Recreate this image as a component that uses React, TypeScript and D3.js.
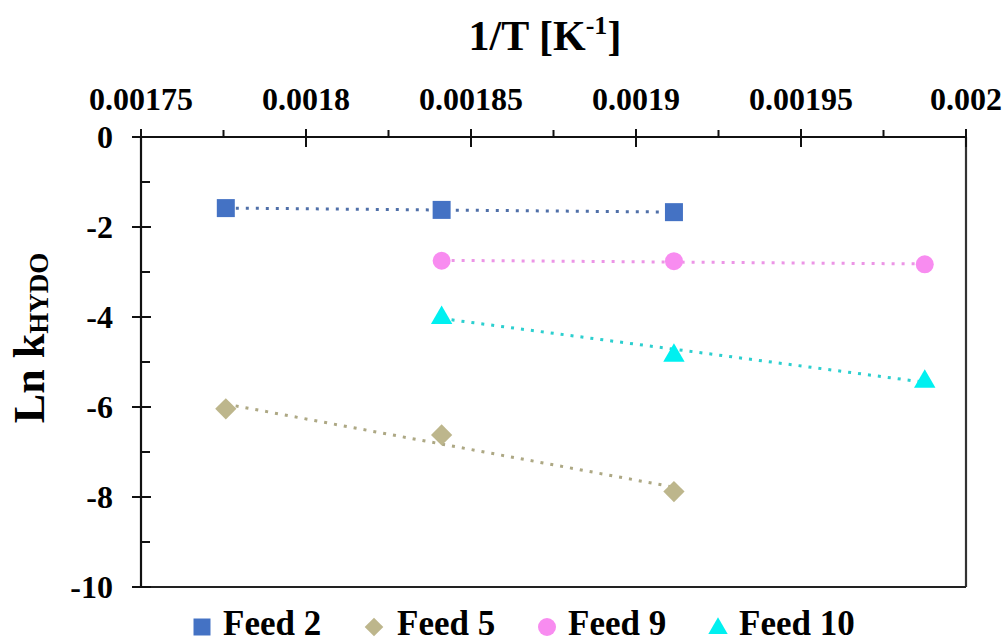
import React from 'react';
import * as d3 from 'd3';

// 1/T values (K^-1) for 290, 270, 250 and 230 °C
const invT = [0.0017757, 0.0018411, 0.0019115, 0.0019875];

const feed2X = [invT[0], invT[1], invT[2]];
const feed2Y = [-1.58, -1.62, -1.67];
const feed5X = [invT[0], invT[1], invT[2]];
const feed5Y = [-6.04, -6.62, -7.88];
const feed9X = [invT[1], invT[2], invT[3]];
const feed9Y = [-2.75, -2.76, -2.83];
const feed10X = [invT[1], invT[2], invT[3]];
const feed10Y = [-3.98, -4.82, -5.4];

const xTicks = [0.00175, 0.0018, 0.00185, 0.0019, 0.00195, 0.002];
const xTickLabels = ['0.00175', '0.0018', '0.00185', '0.0019', '0.00195', '0.002'];
const xMinor = [0.001775, 0.001825, 0.001875, 0.001925, 0.001975];
const yTicks = [0, -2, -4, -6, -8, -10];
const yMinor = [-1, -3, -5, -7, -9];

const series = [
  { name: 'Feed 2', xs: feed2X, ys: feed2Y, color: '#4472C4', line: '#4F6FA8', shape: 'square' },
  { name: 'Feed 5', xs: feed5X, ys: feed5Y, color: '#BDB68C', line: '#ADA884', shape: 'diamond' },
  { name: 'Feed 9', xs: feed9X, ys: feed9Y, color: '#F88CF0', line: '#EC95E6', shape: 'circle' },
  { name: 'Feed 10', xs: feed10X, ys: feed10Y, color: '#00F0F0', line: '#2CCFCF', shape: 'triangle' },
];

const W = 1006;
const H = 643;
const left = 141, right = 966, top = 137, bottom = 587;
const font = '"Liberation Serif", "Times New Roman", serif';

const x = d3.scaleLinear().domain([0.00175, 0.002]).range([left, right]);
const y = d3.scaleLinear().domain([0, -10]).range([top, bottom]);

// least squares trendline like Excel's linear trendline
function fit(xs: number[], ys: number[]) {
  const mx = d3.mean(xs)!;
  const my = d3.mean(ys)!;
  const sxy = d3.sum(xs, (v, i) => (v - mx) * (ys[i] - my));
  const sxx = d3.sum(xs, (v) => (v - mx) * (v - mx));
  const b = sxy / sxx;
  const a = my - b * mx;
  const x0 = d3.min(xs)!;
  const x1 = d3.max(xs)!;
  return [[x0, a + b * x0], [x1, a + b * x1]] as [number, number][];
}

function Marker({ shape, cx, cy, color, size }: any) {
  const sym =
    shape === 'square' ? d3.symbolSquare :
    shape === 'diamond' ? d3.symbolDiamond2 :
    shape === 'circle' ? d3.symbolCircle : d3.symbolTriangle;
  const area =
    shape === 'square' ? size * size :
    shape === 'diamond' ? size * size * 0.5 :
    shape === 'circle' ? Math.PI * (size / 2) * (size / 2) : size * size * 0.45;
  const dy = shape === 'triangle' ? size * 0.08 : 0;
  const p = d3.symbol().type(sym).size(area)();
  return <path d={p || ''} transform={`translate(${cx},${cy + dy})`} fill={color} />;
}

export default function App() {
  const line = d3.line<[number, number]>().x((d) => x(d[0])).y((d) => y(d[1]));
  const legendMarkX = [202, 374, 547, 718];
  const legendTextX = [223, 397, 568, 739];
  const markerSize = (shape: string) =>
    shape === 'square' ? 18 : shape === 'circle' ? 18 : shape === 'diamond' ? 24 : 21;

  return (
    <svg width={W} height={H} style={{ position: 'absolute', left: 0, top: 0, background: '#fff' }} fontFamily={font}>
      {/* title */}
      <text x={545} y={50} textAnchor="middle" fontSize={42} fontWeight="bold" fill="#000">
        1/T [K<tspan fontSize={26} dy={-16}>-1</tspan><tspan dy={16}>]</tspan>
      </text>

      {/* y axis title */}
      <text transform={`translate(44,338) rotate(-90)`} textAnchor="middle" fontSize={44} fontWeight="bold" fill="#000">
        Ln k<tspan fontSize={27} dy={4}>HYDO</tspan>
      </text>

      {/* frame */}
      <line x1={right} x2={right} y1={top} y2={bottom} stroke="#333" strokeWidth={2.2} />
      <line x1={left} x2={right} y1={bottom} y2={bottom} stroke="#222" strokeWidth={2.2} />
      <line x1={left} x2={right} y1={top} y2={top} stroke="#111" strokeWidth={2.2} />
      <line x1={left} x2={left} y1={top} y2={bottom} stroke="#111" strokeWidth={2.2} />

      {/* x ticks (top) */}
      {xTicks.map((t, i) => (
        <g key={'xt' + i}>
          <line x1={x(t)} x2={x(t)} y1={top - 8} y2={top + 10} stroke="#111" strokeWidth={2} />
          <text x={x(t)} y={110} textAnchor="middle" fontSize={32} fontWeight="bold" fill="#000">
            {xTickLabels[i]}
          </text>
        </g>
      ))}
      {xMinor.map((t, i) => (
        <line key={'xm' + i} x1={x(t)} x2={x(t)} y1={top - 7} y2={top} stroke="#111" strokeWidth={2} />
      ))}

      {/* y ticks */}
      {yTicks.map((t, i) => (
        <g key={'yt' + i}>
          <line x1={left - 9} x2={left + 10} y1={y(t)} y2={y(t)} stroke="#111" strokeWidth={2} />
          <text x={113} y={y(t) + 11} textAnchor="end" fontSize={32} fontWeight="bold" fill="#000">
            {String(t)}
          </text>
        </g>
      ))}
      {yMinor.map((t, i) => (
        <line key={'ym' + i} x1={left} x2={left + 9} y1={y(t)} y2={y(t)} stroke="#111" strokeWidth={2} />
      ))}

      {/* trendlines */}
      {series.map((s) => (
        <path key={'tl' + s.name} d={line(fit(s.xs, s.ys)) || ''} fill="none" stroke={s.line}
          strokeWidth={3} strokeDasharray="3 7" />
      ))}

      {/* markers */}
      {series.map((s) =>
        s.xs.map((v, i) => (
          <Marker key={s.name + i} shape={s.shape} cx={x(v)} cy={y(s.ys[i])} color={s.color}
            size={markerSize(s.shape)} />
        ))
      )}

      {/* legend */}
      {series.map((s, i) => (
        <g key={'lg' + s.name}>
          <Marker shape={s.shape} cx={legendMarkX[i]} cy={627} color={s.color}
            size={s.shape === 'square' ? 17 : s.shape === 'circle' ? 18 : s.shape === 'diamond' ? 21 : 19} />
          <text x={legendTextX[i]} y={635} fontSize={35} fontWeight="bold" fill="#000">
            {s.name}
          </text>
        </g>
      ))}
    </svg>
  );
}
